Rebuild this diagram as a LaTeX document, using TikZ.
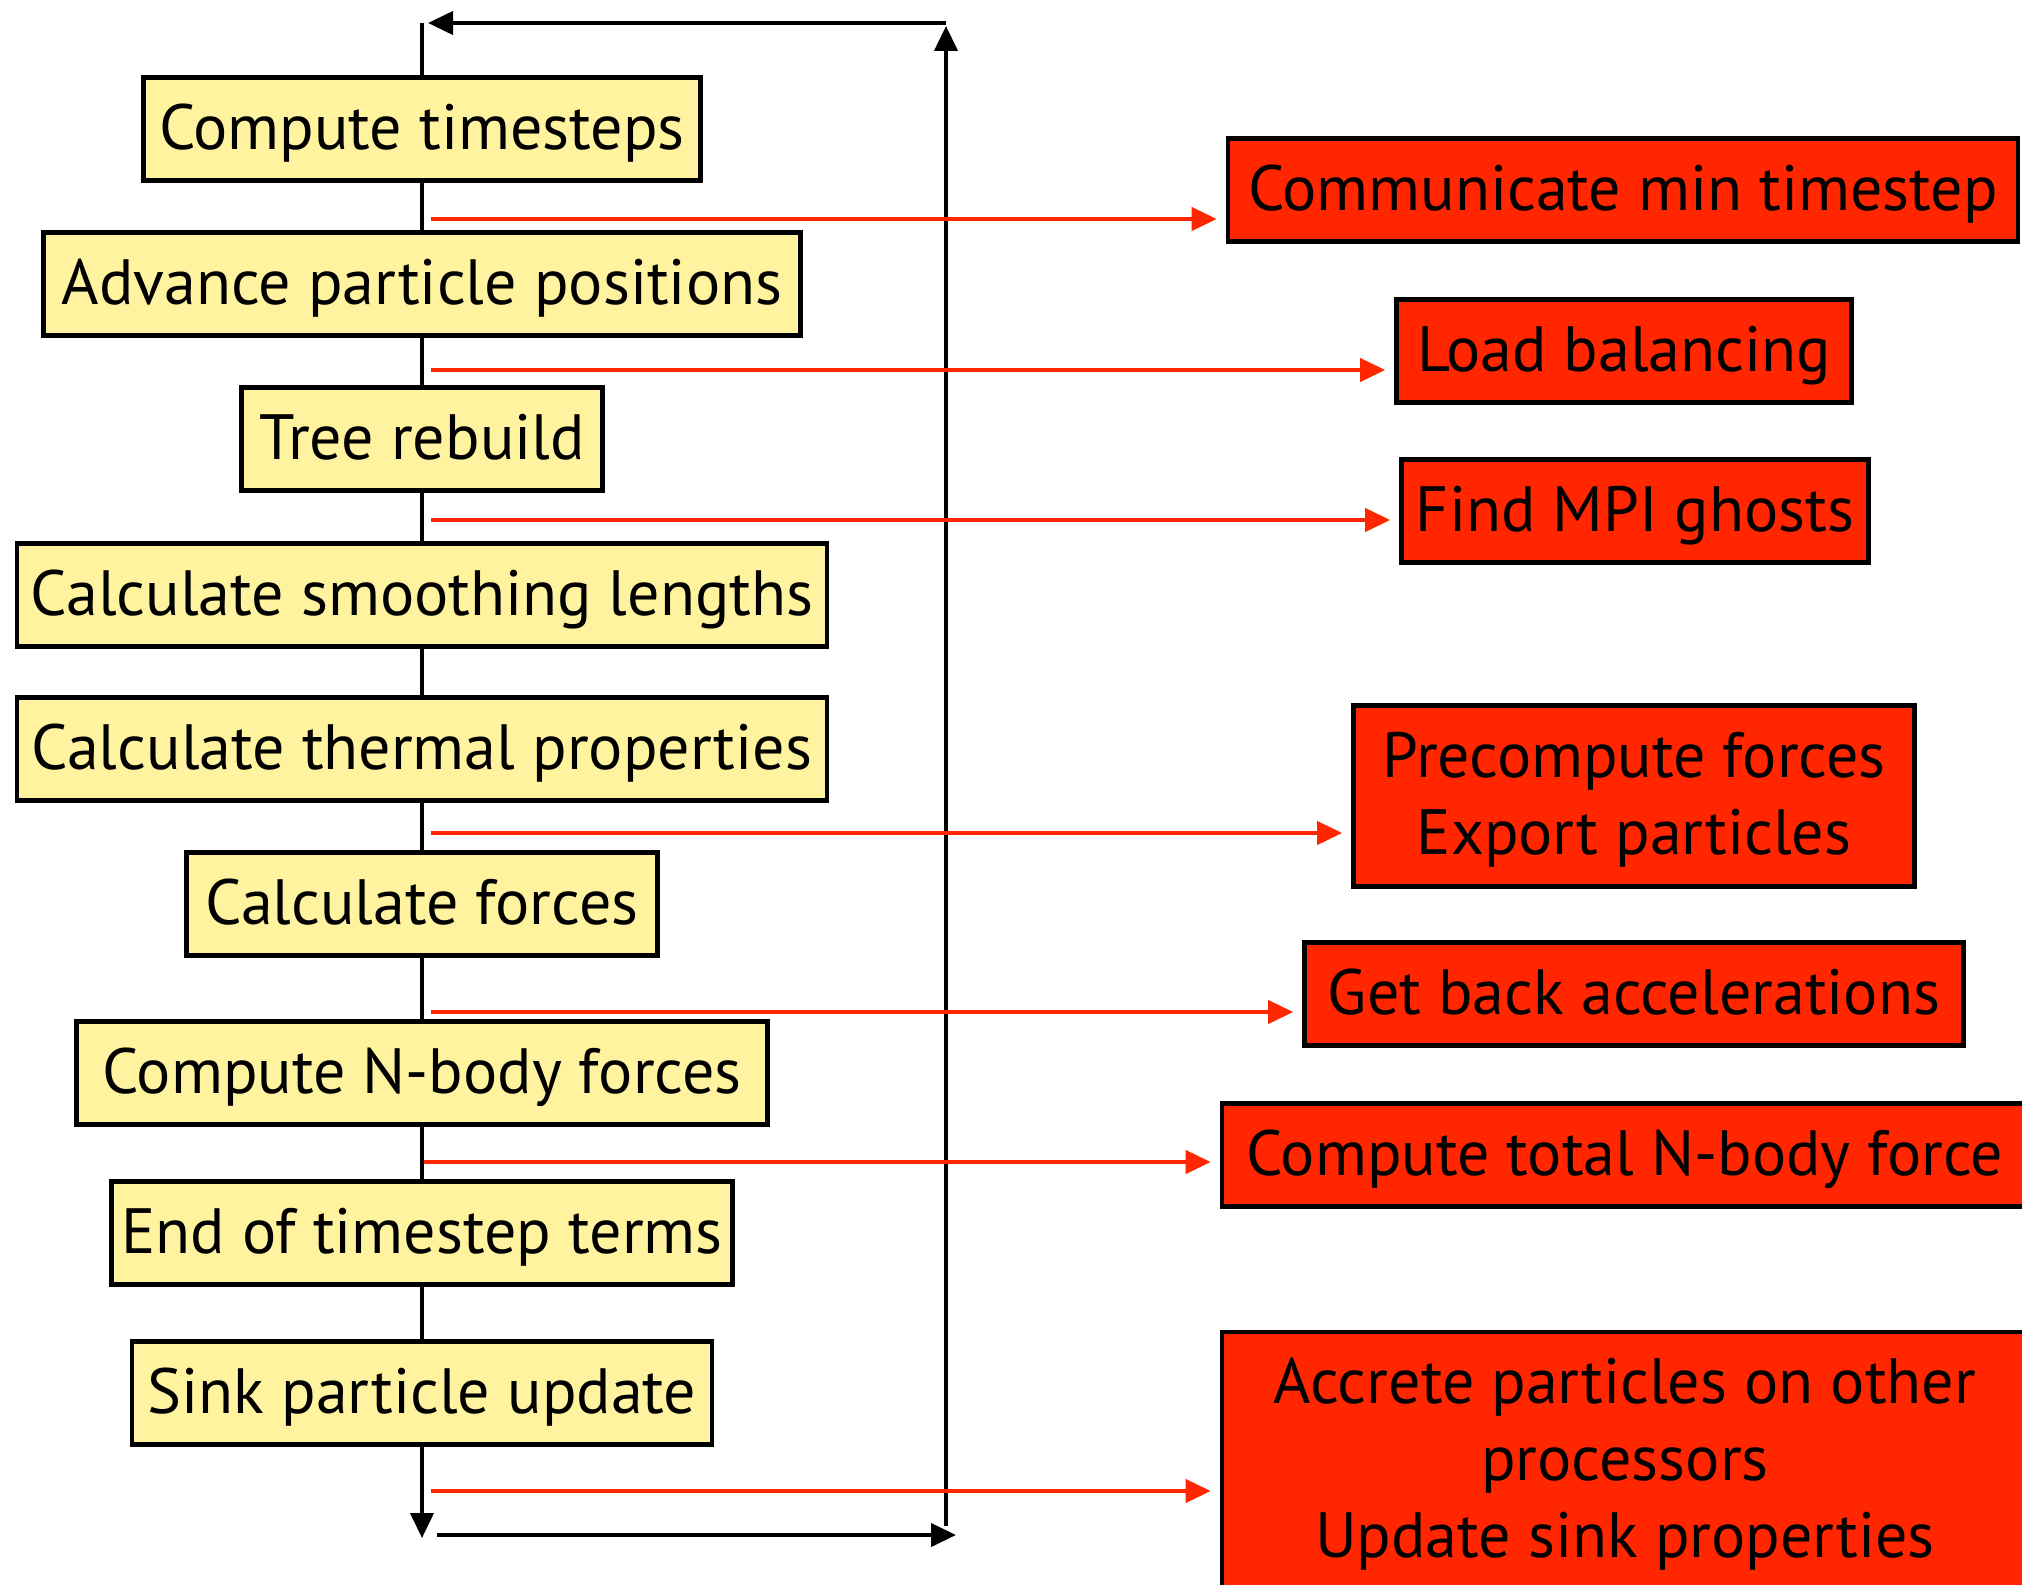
\documentclass[tikz,border=0pt]{standalone}
\usepackage{fontspec}
\setmainfont{PT Sans}
\usetikzlibrary{arrows.meta}
\definecolor{boxyellow}{HTML}{FFF39F}
\definecolor{boxred}{HTML}{FF2600}
\begin{document}
\begin{tikzpicture}[x=0.5pt,y=-0.5pt,
  base/.style={draw=black,line width=2.3pt,inner sep=0pt,align=center,
    font=\fontsize{32}{38.5}\selectfont,minimum height=51.5pt},
  oneline/.style={text height=27pt,text depth=7pt},
  stepbox/.style={base,oneline,fill=boxyellow},
  commbox/.style={base,fill=boxred},
  flow/.style={line width=2pt,draw=black},
  flowarrow/.style={flow,-{Triangle[length=12.5pt,width=11.5pt]}},
  commarrow/.style={line width=2pt,draw=boxred,-{Triangle[length=12.5pt,width=11.5pt]},shorten >=4.5pt}
]
\useasboundingbox (0,0) rectangle (2022,1584);
\begin{scope}
\clip (0,0) rectangle (2022,1584);
% left column
\node[stepbox,minimum width=278.5pt] (b1) at (422,129) {Compute timesteps};
\node[stepbox,minimum width=378.5pt] (b2) at (422,284) {Advance particle positions};
\node[stepbox,minimum width=180.5pt] (b3) at (422,439) {Tree rebuild};
\node[stepbox,minimum width=405pt] (b4) at (422,595) {Calculate smoothing lengths};
\node[stepbox,minimum width=405pt] (b5) at (422,749) {Calculate thermal properties};
\node[stepbox,minimum width=235.5pt] (b6) at (422,904) {Calculate forces};
\node[stepbox,minimum width=345.5pt] (b7) at (422,1073) {Compute N-body forces};
\node[stepbox,minimum width=310.5pt] (b8) at (422,1233) {End of timestep terms};
\node[stepbox,minimum width=290pt] (b9) at (422,1393) {Sink particle update};
% right column
\node[commbox,oneline,minimum width=395pt] (rA) at (1623,190) {Communicate min timestep};
\node[commbox,oneline,minimum width=227.5pt] (rB) at (1624,351) {Load balancing};
\node[commbox,oneline,minimum width=233.5pt] (rC) at (1635,511) {Find MPI ghosts};
\node[commbox,minimum width=280.5pt,minimum height=90.5pt] (rD) at (1634,796) {\rule{0pt}{26pt}Precompute forces\\Export particles};
\node[commbox,oneline,minimum width=329.5pt] (rE) at (1634,994) {Get back accelerations};
\node[commbox,oneline,minimum width=403pt] (rF) at (1625,1155) {Compute total N-body force};
\node[commbox,minimum width=403pt,minimum height=129pt] (rG) at (1625,1461) {\rule{0pt}{26pt}Accrete particles on other\\processors\\Update sink properties};
\end{scope}
% loop coordinates
\coordinate (top) at (422,23);
\coordinate (bot) at (422,1538);
\coordinate (topR) at (946,23);
\coordinate (botR) at (946,1526);
\coordinate (botL) at (437,1535);
\coordinate (botE) at (956,1535);
% spine
\draw[flow] (top) -- (b1.north);
\draw[flow] (b1.south) -- (b2.north);
\draw[flow] (b2.south) -- (b3.north);
\draw[flow] (b3.south) -- (b4.north);
\draw[flow] (b4.south) -- (b5.north);
\draw[flow] (b5.south) -- (b6.north);
\draw[flow] (b6.south) -- (b7.north);
\draw[flow] (b7.south) -- (b8.north);
\draw[flow] (b8.south) -- (b9.north);
\draw[flowarrow] (b9.south) -- (bot);
% return loop
\draw[flowarrow] (botL) -- (botE);
\draw[flowarrow] (botR) -- (946,26);
\draw[flowarrow] (topR) -- (428,23);
% communication arrows
\coordinate (sA) at (431,219);
\coordinate (sB) at (431,370);
\coordinate (sC) at (431,520);
\coordinate (sD) at (431,833);
\coordinate (sE) at (431,1012);
\coordinate (sF) at (424,1162);
\coordinate (sG) at (431,1491);
\draw[commarrow] (sA) -- (sA -| rA.west);
\draw[commarrow] (sB) -- (sB -| rB.west);
\draw[commarrow] (sC) -- (sC -| rC.west);
\draw[commarrow] (sD) -- (sD -| rD.west);
\draw[commarrow] (sE) -- (sE -| rE.west);
\draw[commarrow] (sF) -- (sF -| rF.west);
\draw[commarrow] (sG) -- (sG -| rG.west);
\end{tikzpicture}
\end{document}
